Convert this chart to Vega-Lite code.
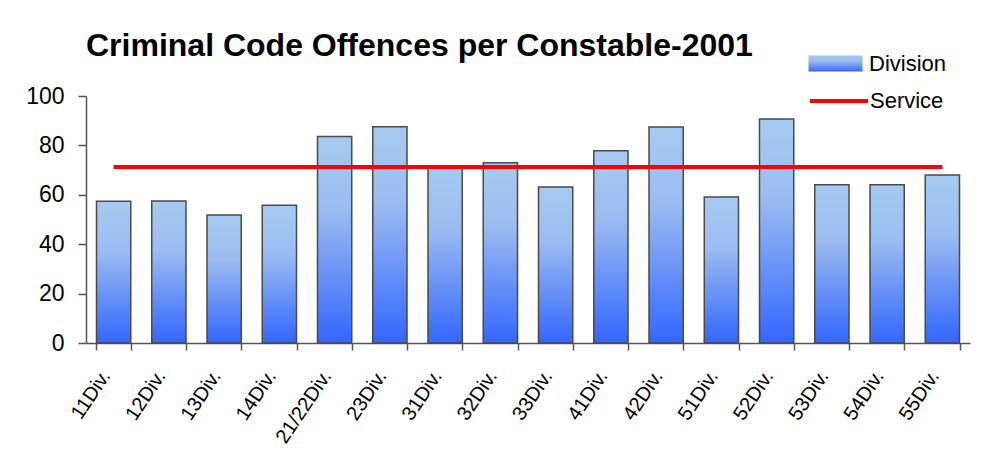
{
  "$schema": "https://vega.github.io/schema/vega-lite/v6.json",
  "width": 884,
  "height": 247,
  "autosize": {"type": "none"},
  "padding": {"left": 86, "top": 96, "right": 15, "bottom": 124},
  "background": "white",
  "title": {
    "text": "Criminal Code Offences per Constable-2001",
    "anchor": "start",
    "frame": "group",
    "baseline": "alphabetic",
    "offset": -52,
    "font": "Liberation Sans",
    "fontSize": 32,
    "fontWeight": "bold",
    "color": "black"
  },
  "data": {
    "values": [
      {"division": "11Div.", "rate": 57.4, "service": 71.3},
      {"division": "12Div.", "rate": 57.5, "service": 71.3},
      {"division": "13Div.", "rate": 51.8, "service": 71.3},
      {"division": "14Div.", "rate": 55.8, "service": 71.3},
      {"division": "21/22Div.", "rate": 83.6, "service": 71.3},
      {"division": "23Div.", "rate": 87.6, "service": 71.3},
      {"division": "31Div.", "rate": 71.0, "service": 71.3},
      {"division": "32Div.", "rate": 73.0, "service": 71.3},
      {"division": "33Div.", "rate": 63.2, "service": 71.3},
      {"division": "41Div.", "rate": 77.8, "service": 71.3},
      {"division": "42Div.", "rate": 87.5, "service": 71.3},
      {"division": "51Div.", "rate": 59.1, "service": 71.3},
      {"division": "52Div.", "rate": 90.7, "service": 71.3},
      {"division": "53Div.", "rate": 64.1, "service": 71.3},
      {"division": "54Div.", "rate": 64.1, "service": 71.3},
      {"division": "55Div.", "rate": 68.0, "service": 71.3}
    ]
  },
  "encoding": {
    "x": {
      "field": "division",
      "type": "nominal",
      "sort": null,
      "scale": {"paddingInner": 0.38, "paddingOuter": 0.19},
      "axis": {
        "title": null,
        "labelAngle": -56,
        "labelAlign": "right",
        "labelBaseline": "middle",
        "labelFont": "Liberation Sans",
        "labelFontSize": 20,
        "labelColor": "black",
        "labelPadding": 22,
        "labelOffset": -8,
        "tickBand": "extent",
        "tickSize": 7,
        "tickColor": "#555555",
        "domainColor": "#555555",
        "domainWidth": 1.5,
        "tickWidth": 1.5
      }
    }
  },
  "layer": [
    {
      "mark": {
        "type": "bar",
        "stroke": "#4a4a4a",
        "strokeWidth": 1.5,
        "fill": {
          "gradient": "linear",
          "x1": 0, "y1": 0, "x2": 0, "y2": 1,
          "stops": [
            {"offset": 0, "color": "#A6CAF0"},
            {"offset": 0.35, "color": "#9BBCF0"},
            {"offset": 1, "color": "#3366FF"}
          ]
        }
      },
      "encoding": {
        "y": {
          "field": "rate",
          "type": "quantitative",
          "scale": {"domain": [0, 100]},
          "axis": {
            "title": null,
            "values": [0, 20, 40, 60, 80, 100],
            "grid": false,
            "labelFont": "Liberation Sans",
            "labelFontSize": 23,
            "labelColor": "black",
            "labelPadding": 14,
            "tickSize": 8,
            "tickColor": "#555555",
            "domainColor": "#555555",
            "domainWidth": 1.5,
            "tickWidth": 1.5
          }
        },
        "opacity": {
          "datum": "Division",
          "scale": {"domain": ["Division"], "range": [1]},
          "legend": {
            "title": null,
            "orient": "none",
            "legendX": 722,
            "legendY": -60,
            "symbolType": "M-1,-0.3H1V0.3H-1Z",
            "symbolSize": 2916,
            "symbolStrokeColor": "#555555",
            "symbolStrokeWidth": 1,
            "labelFont": "Liberation Sans",
            "labelFontSize": 22,
            "labelColor": "black",
            "labelOffset": 6,
            "padding": 0
          }
        }
      }
    },
    {
      "mark": {"type": "line", "strokeWidth": 4},
      "encoding": {
        "y": {"field": "service", "type": "quantitative"},
        "stroke": {
          "datum": "Service",
          "scale": {"domain": ["Service"], "range": ["#FF0000"]},
          "legend": {
            "title": null,
            "orient": "none",
            "legendX": 722,
            "legendY": -26,
            "symbolType": "stroke",
            "symbolSize": 3364,
            "symbolStrokeWidth": 4,
            "labelFont": "Liberation Sans",
            "labelFontSize": 22,
            "labelColor": "black",
            "labelOffset": 0,
            "padding": 0
          }
        }
      }
    }
  ],
  "config": {
    "view": {"stroke": null}
  }
}
